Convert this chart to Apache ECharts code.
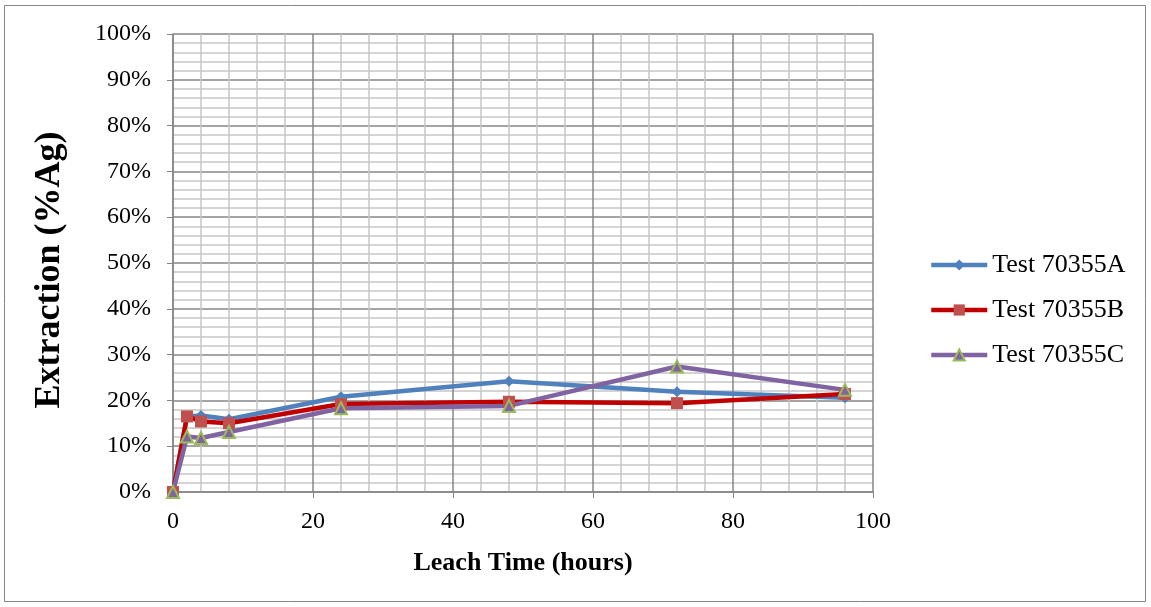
<!DOCTYPE html>
<html><head><meta charset="utf-8">
<script src="https://cdn.jsdelivr.net/npm/echarts@6/dist/echarts.min.js"></script>
<style>html,body{margin:0;padding:0;background:#fff}#c{width:1151px;height:607px}</style>
</head><body><div id="c"></div>
<script>
const hours = [0, 2, 4, 8, 24, 48, 72, 96];
const testA = [0, 16.5, 16.7, 15.9, 20.8, 24.2, 21.9, 20.6];
const testB = [0, 16.5, 15.4, 15.0, 19.2, 19.7, 19.4, 21.4];
const testC = [0, 12.1, 11.8, 13.1, 18.3, 18.8, 27.4, 22.3];
const seriesNames = ['Test 70355A', 'Test 70355B', 'Test 70355C'];

const font = '"Liberation Serif", "Times New Roman", serif';
const chart = echarts.init(document.getElementById('c'));
const pair = arr => hours.map((h, i) => [h, arr[i]]);
chart.setOption({
  animation: false,
  graphic: [{type: 'rect', shape: {x: 4.5, y: 5.5, width: 1141, height: 596}, style: {fill: 'none', stroke: '#868686', lineWidth: 1}}],
  grid: {left: 173, right: 278, top: 34, bottom: 115},
  legend: {
    orient: 'vertical', left: 924, top: 247, itemGap: 19, itemWidth: 56, itemHeight: 14,
    textStyle: {fontFamily: font, fontSize: 26, color: '#000'},
    lineStyle: {width: 4.5},
    data: seriesNames
  },
  xAxis: {
    type: 'value', min: 0, max: 100, interval: 20,
    name: 'Leach Time (hours)', nameLocation: 'middle', nameGap: 58,
    nameTextStyle: {fontFamily: font, fontSize: 26, fontWeight: 'bold', color: '#000'},
    axisLine: {show: true, lineStyle: {color: '#868686', width: 1.5}},
    axisTick: {show: true, length: 6, lineStyle: {color: '#868686'}},
    axisLabel: {fontFamily: font, fontSize: 24, color: '#000', margin: 18},
    splitLine: {show: true, lineStyle: {color: '#868686', width: 1.5}},
    minorTick: {show: true, splitNumber: 5, length: 0, lineStyle: {width: 0}},
    minorSplitLine: {show: true, lineStyle: {color: '#c6c6c6', width: 1.5}}
  },
  yAxis: {
    type: 'value', min: 0, max: 100, interval: 10,
    name: 'Extraction (%Ag)', nameLocation: 'middle', nameGap: 105, nameRotate: 90,
    nameTextStyle: {fontFamily: font, fontSize: 36, fontWeight: 'bold', color: '#000', padding: [0, 14, 0, 0]},
    axisLine: {show: true, lineStyle: {color: '#868686', width: 1.5}},
    axisTick: {show: true, length: 6, lineStyle: {color: '#868686'}},
    axisLabel: {fontFamily: font, fontSize: 24, color: '#000', margin: 22, formatter: v => v + '%'},
    splitLine: {show: true, lineStyle: {color: '#868686', width: 1.5}},
    minorTick: {show: true, splitNumber: 5, length: 0, lineStyle: {width: 0}},
    minorSplitLine: {show: true, lineStyle: {color: '#c6c6c6', width: 1.5}}
  },
  series: [
    {name: seriesNames[0], type: 'line', data: pair(testA), symbol: 'diamond', symbolSize: 11,
     lineStyle: {color: '#4F81BD', width: 4.5}, itemStyle: {color: '#4F81BD'}},
    {name: seriesNames[1], type: 'line', data: pair(testB), symbol: 'rect', symbolSize: 12,
     lineStyle: {color: '#C00000', width: 4.5}, itemStyle: {color: '#C0504D'}},
    {name: seriesNames[2], type: 'line', data: pair(testC), symbol: 'triangle', symbolSize: 12,
     lineStyle: {color: '#8064A2', width: 4.5}, itemStyle: {color: '#8064A2', borderColor: '#9BBB59', borderWidth: 2}}
  ]
});
</script></body></html>
